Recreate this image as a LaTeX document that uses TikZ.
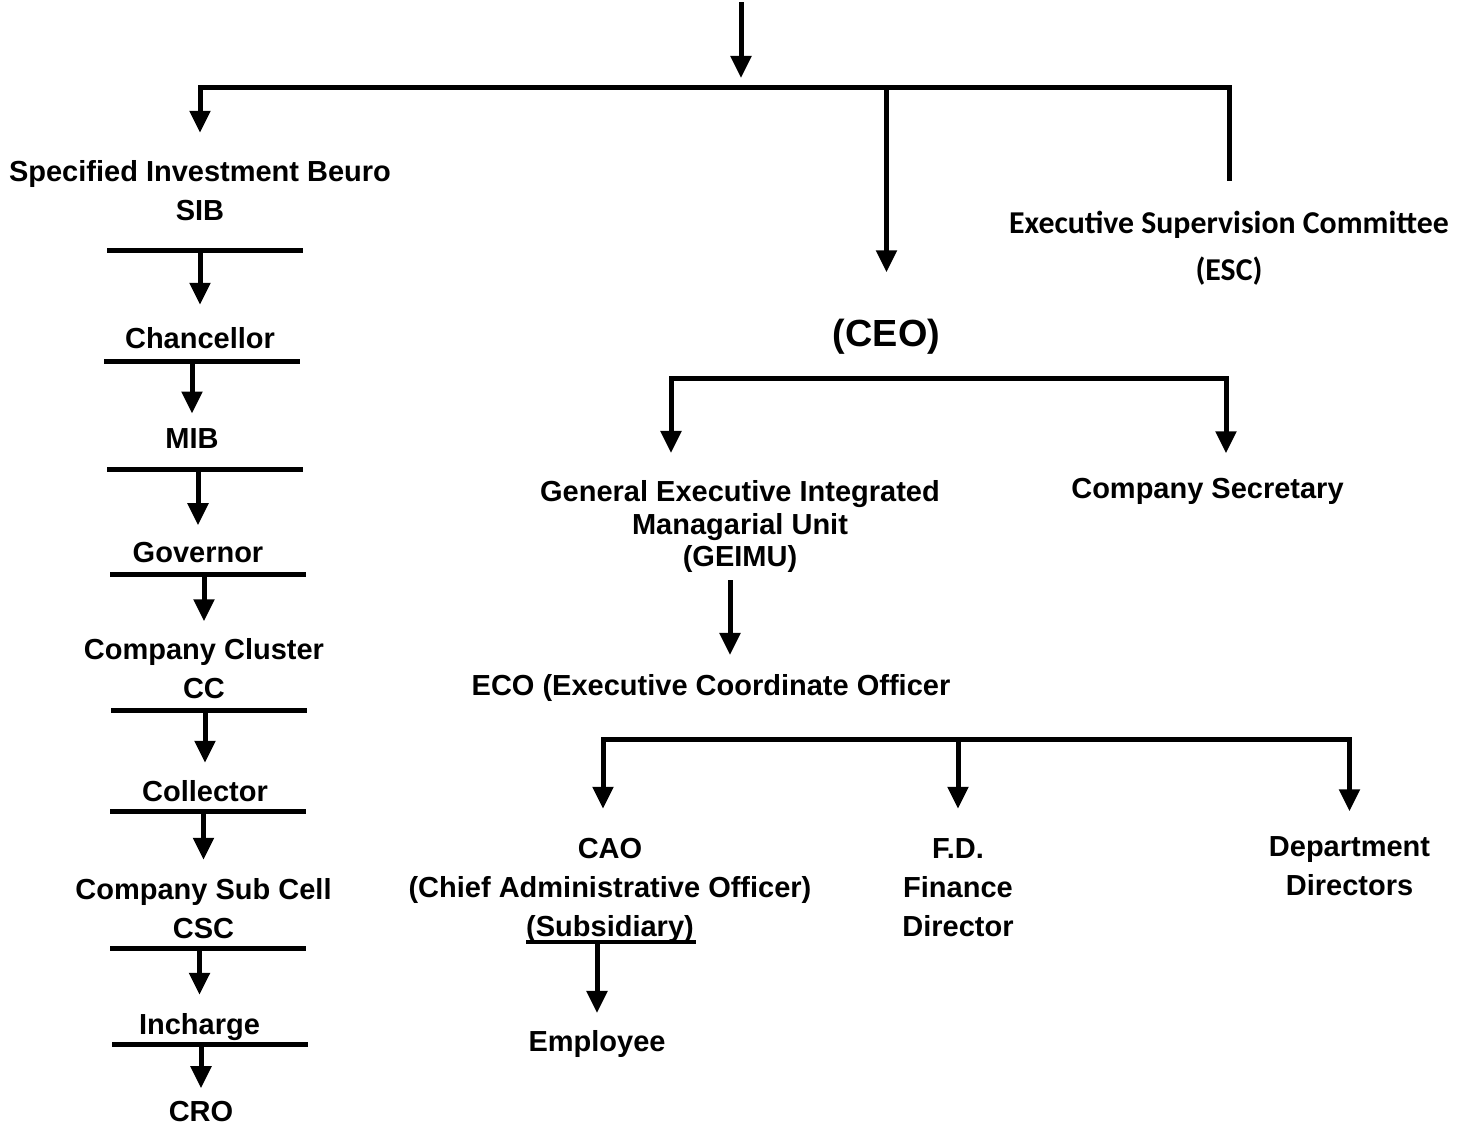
\documentclass[tikz,border=0pt]{standalone}
\usepackage{fontspec}
\setmainfont{Liberation Sans}
\newfontfamily\calibri{Carlito}
\usetikzlibrary{arrows.meta}

\begin{document}
\begin{tikzpicture}[x=0.5pt, y=-0.5pt, line width=2.5pt, line cap=rect,
        main/.style = {font=\bfseries\fontsize{14.5}{19.5}\selectfont, align=center, inner sep=0pt, outer sep=0pt},
        bar/.style = {fill, inner sep=0pt, outer sep=0pt, minimum width=98pt, minimum height=2.5pt},
        arr/.style = {-{Triangle[width=10pt, length=11pt]}, shorten >=#1},
        arr/.default = 8.75pt]
    \useasboundingbox (0,0) rectangle (1472,1129);

    % left column
    \node[main] (sib) at (200,190.5) {Specified Investment Beuro\\SIB};
    \node[bar] (bar1) at (204.5,250) {};
    \node[main] (chan) at (200,338) {Chancellor};
    \node[bar] (bar2) at (202,361) {};
    \node[main] (mib) at (192,439) {MIB};
    \node[bar] (bar3) at (204.5,469) {};
    \node[main] (gov) at (198,553) {Governor};
    \node[bar] (bar4) at (208,574) {};
    \node[main] (cc) at (204,669) {Company Cluster\\CC};
    \node[bar] (bar5) at (208.5,710) {};
    \node[main] (coll) at (205,791) {Collector};
    \node[bar] (bar6) at (208,811) {};
    \node[main] (csc) at (203.5,908.5) {Company Sub Cell\\CSC};
    \node[bar] (bar7) at (208,948) {};
    \node[main] (inch) at (199.5,1027) {Incharge};
    \node[bar] (bar8) at (209.5,1044) {};
    \node[main] (cro) at (201,1112) {CRO};

    % right part
    \node[main, font=\calibri\bfseries\fontsize{15.9}{23.5}\selectfont] (esc) at (1229,248.5) {Executive Supervision Committee\\(ESC)};
    \node[main, font=\bfseries\fontsize{18.9}{22}\selectfont] (ceo) at (886.5,337) {(CEO)};
    \node[main, font=\bfseries\fontsize{14.5}{16.25}\selectfont] (geimu) at (740,526.5) {General Executive Integrated\\Managarial Unit\\(GEIMU)};
    \node[main] (sec) at (1207.5,491) {Company Secretary};
    \node[main] (eco) at (711,688) {ECO (Executive Coordinate Officer};
    \node[main] (cao) at (610,890.5) {CAO\\(Chief Administrative Officer)\\(Subsidiary)};
    \node[bar, minimum width=85pt, minimum height=2pt] (ul) at (611,942) {};
    \node[main] (fd) at (958,887.5) {F.D.\\Finance\\Director};
    \node[main] (dept) at (1349.5,866.5) {Department\\Directors};
    \node[main] (emp) at (597,1044) {Employee};

    \coordinate (src) at (741,5);
    \coordinate (j0) at (741,88);
    \coordinate (j1l) at (671,378);
    \coordinate (j1r) at (1226,378);
    \coordinate (j2) at (955,739);

    \path[arr=5pt] (src) edge (j0);
    \draw[arr=13.75pt, shorten <=16.5pt] (esc.north) -- (esc |- j0) -- (sib |- j0) -- (sib.north);
    \path[arr=23.5pt] (ceo |- j0) edge (ceo.north);

    \draw[arr=13.75pt] (j1r) -- (j1l) -- (j1l |- geimu.north);
    \path[arr=12.25pt] (j1r) edge (j1r |- sec.north);
    \path[arr=9.75pt, shorten <=5pt] ([xshift=-5pt]geimu.south) edge ([xshift=-5pt]geimu.south |- eco.north);

    \draw[arr=14.75pt] (dept |- j2) -- ([xshift=-3.5pt]cao.north |- j2) -- ([xshift=-3.5pt]cao.north);
    \path[arr=14.75pt] (fd |- j2) edge (fd.north);
    \path[arr=12.75pt] (dept |- j2) edge (dept.north);
    \path[arr] (ul -| emp) edge (emp.north);

    \path[arr=11.25pt] (bar1 -| chan) edge (chan.north);
    \path[arr=7.75pt] (bar2 -| mib) edge (mib.north);
    \path[arr] (bar3 -| gov) edge (gov.north);
    \path[arr] (bar4 -| cc) edge (cc.north);
    \path[arr] (bar5 -| coll) edge (coll.north);
    \path[arr=9.25pt] (bar6 -| csc) edge (csc.north);
    \path[arr=9.25pt] (bar7 -| inch) edge (inch.north);
    \path[arr=6.75pt] (bar8 -| cro) edge (cro.north);
\end{tikzpicture}
\end{document}
